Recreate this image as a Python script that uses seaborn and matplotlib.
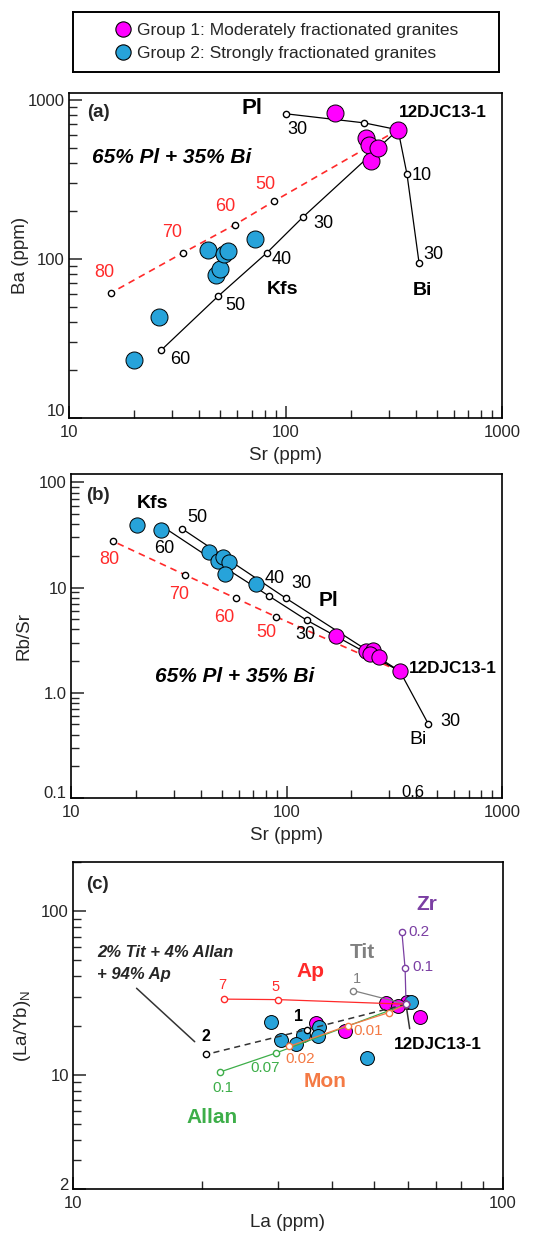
import numpy as np
import pandas as pd
import seaborn as sns
import matplotlib
matplotlib.use('Agg')
import matplotlib.pyplot as plt
from matplotlib.ticker import FixedLocator, NullFormatter, LogLocator
from matplotlib.lines import Line2D
from matplotlib.transforms import ScaledTranslation

sns.set_style('ticks')
plt.rcParams['font.family'] = ['Liberation Sans', 'DejaVu Sans']
plt.rcParams['mathtext.fontset'] = 'custom'
plt.rcParams['mathtext.rm'] = 'Liberation Sans'

# 颜色
MAG = '#FF00FF'
BLU = '#27A3DA'
RED = '#FF2A2A'
ORG = '#F47A45'
GRN = '#3DAE49'
PUR = '#7B3FA3'
GRY = '#808080'

# ---------------- (a) Sr - Ba ----------------
g1_sr_a = [169, 235, 243, 248, 267, 331]
g1_ba_a = [828, 575, 519, 411, 497, 646]
g2_sr_a = [20, 26, 44, 48, 50, 52, 54, 72]
g2_ba_a = [23, 43, 114, 79, 86, 107, 112, 134]

pl_sr_a = [331, 231, 100]
pl_ba_a = [646, 714, 815]
bi_sr_a = [331, 364, 414]
bi_ba_a = [646, 340, 94]
kfs_sr_a = [331, 120, 82, 48.7, 26.6]
kfs_ba_a = [646, 182, 109, 58, 26.6]
mix_sr_a = [331, 88.5, 58.5, 33.6, 15.6]
mix_ba_a = [646, 230, 164, 109, 61]

# ---------------- (b) Sr - Rb/Sr ----------------
g1_sr_b = [170, 234, 251, 245, 269, 336]
g1_rbsr_b = [3.44, 2.5, 2.55, 2.34, 2.2, 1.6]
g2_sr_b = [20.2, 26.2, 43.7, 48, 50.7, 54, 52, 72]
g2_rbsr_b = [38.9, 35.5, 21.9, 17.8, 19.5, 17.4, 13.5, 10.7]

kfs_sr_b = [336, 124, 83, 49, 26.6]
kfs_rbsr_b = [1.6, 4.9, 8.3, 16.6, 38]
pl_sr_b = [336, 99.6, 32.7]
pl_rbsr_b = [1.6, 7.9, 36.3]
bi_sr_b = [336, 454]
bi_rbsr_b = [1.6, 0.51]
mix_sr_b = [336, 89, 58.3, 33.8, 15.7]
mix_rbsr_b = [1.6, 5.3, 7.9, 13.2, 27.5]

# ---------------- (c) La - (La/Yb)N ----------------
g1_la = [59.8, 53.5, 57, 64, 36.7, 43]
g1_layb = [28, 27.3, 26.5, 22.4, 20.8, 18.4]
g2_la = [61, 28.8, 37.4, 37.2, 34.3, 30.5, 33, 48.2]
g2_layb = [27.7, 21.1, 19.7, 17.3, 17.6, 16.4, 15.5, 12.7]

ap_la = [59.5, 30, 22.4]
ap_layb = [27, 28.8, 29]
tit_la = [59.5, 44.8]
tit_layb = [27, 32.7]
zr_la = [59.5, 59.2, 58.2]
zr_layb = [27, 44.7, 74.3]
mon_la = [59.5, 54.3, 43.7, 31.8]
mon_layb = [27, 24, 20, 14.9]
allan_la = [59.5, 29.7, 22]
allan_layb = [27, 13.6, 10.4]
mixc_la = [59.5, 35, 20.4]
mixc_layb = [27, 18.9, 13.3]


def model_line(ax, xs, ys, color='black', ls='-', lw=0.9, mec='black', z=2):
    sns.lineplot(x=xs, y=ys, ax=ax, sort=False, estimator=None, color=color,
                 linestyle=ls, linewidth=lw, marker='o', markersize=4.5,
                 markerfacecolor='white', markeredgecolor=mec,
                 markeredgewidth=1.0, zorder=z)


def samples(ax, x1, y1, x2, y2, s, z=3):
    sns.scatterplot(x=x1, y=y1, ax=ax, color=MAG, s=s, edgecolor='black',
                    linewidth=0.7, zorder=z)
    sns.scatterplot(x=x2, y=y2, ax=ax, color=BLU, s=s, edgecolor='black',
                    linewidth=0.7, zorder=z)


def lab(ax, x, y, s, fs=13, color='black', **kw):
    ax.text(x, y, s, ha='center', va='center', fontsize=fs, color=color, **kw)


def style_axes(ax):
    ax.set_xscale('log')
    ax.set_yscale('log')
    for sp in ['top', 'right', 'left', 'bottom']:
        ax.spines[sp].set_linewidth(1.2)
        ax.spines[sp].set_color('black')
    ax.tick_params(which='major', direction='in', length=9, width=1.1,
                   labelsize=12, pad=3, top=False, right=False)
    ax.tick_params(axis='x', which='major', pad=5)
    ax.tick_params(which='minor', direction='in', length=5.5, width=1.0,
                   top=False, right=False)
    ax.xaxis.set_minor_locator(LogLocator(base=10, subs=np.arange(2, 10)))
    ax.yaxis.set_minor_locator(LogLocator(base=10, subs=np.arange(2, 10)))
    ax.xaxis.set_minor_formatter(NullFormatter())
    ax.yaxis.set_minor_formatter(NullFormatter())


def lift_first_ylabel(ax, px):
    t = ax.get_yticklabels()[0]
    t.set_transform(t.get_transform() + ScaledTranslation(0, px / 100, fig.dpi_scale_trans))


fig = plt.figure(figsize=(5.51, 12.37), dpi=100)

# 图例
ax_leg = fig.add_axes([73 / 551, 1 - 72 / 1237, 426 / 551, 60 / 1237])
ax_leg.set_xticks([])
ax_leg.set_yticks([])
for sp in ax_leg.spines.values():
    sp.set_linewidth(1.4)
    sp.set_color('black')
handles = [Line2D([], [], ls='none', marker='o', markersize=11, markerfacecolor=MAG,
                  markeredgecolor='black', markeredgewidth=0.8),
           Line2D([], [], ls='none', marker='o', markersize=11, markerfacecolor=BLU,
                  markeredgecolor='black', markeredgewidth=0.8)]
ax_leg.legend(handles, ['Group 1: Moderately fractionated granites',
                        'Group 2: Strongly fractionated granites'],
              loc='center', frameon=False, fontsize=12.5, handletextpad=0.3,
              labelspacing=0.45, handlelength=1.0, borderpad=0.1)

# ---------------- (a) ----------------
ax = fig.add_axes([69 / 551, 1 - 418 / 1237, 433 / 551, 325 / 1237])
style_axes(ax)
model_line(ax, mix_sr_a, mix_ba_a, color=RED, ls=(0, (4, 3)), lw=1.2)
model_line(ax, pl_sr_a, pl_ba_a)
model_line(ax, bi_sr_a, bi_ba_a)
model_line(ax, kfs_sr_a, kfs_ba_a)
samples(ax, g1_sr_a, g1_ba_a, g2_sr_a, g2_ba_a, 150)
ax.set_xlim(10, 1000)
ax.set_ylim(10, 1100)
ax.xaxis.set_major_locator(FixedLocator([10, 100, 1000]))
ax.set_xticklabels(['10', '100', '1000'])
ax.yaxis.set_major_locator(FixedLocator([10, 100, 1000]))
ax.set_yticklabels(['10', '100', '1000'])
lift_first_ylabel(ax, 8)
ax.set_xlabel('Sr (ppm)', fontsize=13.5)
ax.set_ylabel('Ba (ppm)', fontsize=13.5)
ax.yaxis.set_label_coords(-0.092, 0.5)
ax.xaxis.set_label_coords(0.5, -0.089)

ax.text(0.067, 0.94, '(a)', transform=ax.transAxes, ha='center', va='center',
        fontsize=13.5, fontweight='bold')
lab(ax, 70, 878, 'Pl', fs=16, fontweight='bold')
lab(ax, 113, 648, '30')
lab(ax, 533, 828, '12DJC13-1', fs=12.3, fontweight='bold')
lab(ax, 29.9, 431, '65% Pl + 35% Bi', fs=15, fontweight='bold', fontstyle='italic')
lab(ax, 81, 292, '50', color=RED)
lab(ax, 52.5, 212, '60', color=RED)
lab(ax, 29.9, 146, '70', color=RED)
lab(ax, 14.5, 82, '80', color=RED)
lab(ax, 149, 166, '30')
lab(ax, 96.4, 98.6, '40')
lab(ax, 58.5, 50.6, '50')
lab(ax, 32.6, 23.2, '60')
lab(ax, 96.4, 63.9, 'Kfs', fs=14, fontweight='bold')
lab(ax, 427, 63, 'Bi', fs=14, fontweight='bold')
lab(ax, 427, 333, '10')
lab(ax, 480, 107, '30')

# ---------------- (b) ----------------
ax = fig.add_axes([71 / 551, 1 - 798 / 1237, 431 / 551, 324 / 1237])
style_axes(ax)
model_line(ax, mix_sr_b, mix_rbsr_b, color=RED, ls=(0, (4, 3)), lw=1.2)
model_line(ax, kfs_sr_b, kfs_rbsr_b)
model_line(ax, pl_sr_b, pl_rbsr_b)
model_line(ax, bi_sr_b, bi_rbsr_b)
samples(ax, g1_sr_b, g1_rbsr_b, g2_sr_b, g2_rbsr_b, 120)
ax.set_xlim(10, 1000)
ax.set_ylim(0.1, 120)
ax.xaxis.set_major_locator(FixedLocator([10, 100, 1000]))
ax.set_xticklabels(['10', '100', '1000'])
ax.yaxis.set_major_locator(FixedLocator([0.1, 1, 10, 100]))
ax.set_yticklabels(['0.1', '1.0', '10', '100'])
lift_first_ylabel(ax, 6)
ax.set_xlabel('Sr (ppm)', fontsize=13.5)
ax.set_ylabel('Rb/Sr', fontsize=13.5)
ax.yaxis.set_label_coords(-0.09, 0.5)
ax.xaxis.set_label_coords(0.5, -0.09)

ax.text(0.063, 0.935, '(b)', transform=ax.transAxes, ha='center', va='center',
        fontsize=13.5, fontweight='bold')
lab(ax, 24, 63, 'Kfs', fs=14, fontweight='bold')
lab(ax, 38.5, 46.8, '50')
lab(ax, 27, 23.4, '60')
lab(ax, 15, 18.6, '80', color=RED)
lab(ax, 31.7, 8.6, '70', color=RED)
lab(ax, 51.3, 5.16, '60', color=RED)
lab(ax, 81, 3.75, '50', color=RED)
lab(ax, 122, 3.6, '30')
lab(ax, 88.5, 12.3, '40')
lab(ax, 117, 11, '30')
lab(ax, 156, 7.6, 'Pl', fs=15, fontweight='bold')
lab(ax, 593, 1.7, '12DJC13-1', fs=12.3, fontweight='bold')
lab(ax, 57.7, 1.44, '65% Pl + 35% Bi', fs=15, fontweight='bold', fontstyle='italic')
lab(ax, 407, 0.36, 'Bi', fs=14)
lab(ax, 574, 0.53, '30')
lab(ax, 386, 0.114, '0.6', fs=12)

# ---------------- (c) ----------------
ax = fig.add_axes([73 / 551, 1 - 1189 / 1237, 430 / 551, 327 / 1237])
style_axes(ax)
samples(ax, g1_la, g1_layb, g2_la, g2_layb, 100, z=2)
model_line(ax, allan_la, allan_layb, color=GRN, mec=GRN, z=3)
model_line(ax, mon_la, mon_layb, color=ORG, mec=ORG, z=3)
model_line(ax, mixc_la, mixc_layb, color='#333333', ls=(0, (4, 3)), lw=1.1, z=3)
model_line(ax, tit_la, tit_layb, color=GRY, mec=GRY, z=3)
model_line(ax, ap_la, ap_layb, color=RED, mec=RED, z=3)
model_line(ax, zr_la, zr_layb, color=PUR, mec=PUR, z=3)
ax.set_xlim(10, 100)
ax.set_ylim(2, 200)
ax.xaxis.set_major_locator(FixedLocator([10, 100]))
ax.set_xticklabels(['10', '100'])
ax.yaxis.set_major_locator(FixedLocator([2, 10, 100]))
ax.set_yticklabels(['2', '10', '100'])
lift_first_ylabel(ax, 5)
ax.set_xlabel('La (ppm)', fontsize=13.5)
ax.set_ylabel(r'(La/Yb)$_\mathregular{N}$', fontsize=13.5)
ax.yaxis.set_label_coords(-0.093, 0.5)
ax.xaxis.set_label_coords(0.5, -0.076)
for t in ax.yaxis.get_minor_ticks():
    if abs(t.get_loc() - 4) < 1e-6:
        t.tick1line.set_color('blue')

ax.text(0.056, 0.93, '(c)', transform=ax.transAxes, ha='center', va='center',
        fontsize=13.5, fontweight='bold')
lab(ax, 66.5, 110, 'Zr', fs=15, color=PUR, fontweight='bold')
lab(ax, 63.8, 75, '0.2', fs=11, color=PUR)
lab(ax, 65.1, 45.3, '0.1', fs=11, color=PUR)
lab(ax, 47.2, 56, 'Tit', fs=15, color=GRY, fontweight='bold')
lab(ax, 45.7, 38.3, '1', fs=10.5, color=GRY)
lab(ax, 35.7, 42.8, 'Ap', fs=15, color=RED, fontweight='bold')
lab(ax, 22.3, 35.2, '7', fs=10.5, color=RED)
lab(ax, 29.6, 34.2, '5', fs=10.5, color=RED)
lab(ax, 33.5, 22.7, '1', fs=11.5, fontweight='bold')
lab(ax, 20.4, 17.1, '2', fs=11.5, fontweight='bold')
lab(ax, 48.6, 18.4, '0.01', fs=11, color=ORG)
lab(ax, 33.7, 12.4, '0.02', fs=11, color=ORG)
lab(ax, 28, 11, '0.07', fs=11, color=GRN)
lab(ax, 22.3, 8.3, '0.1', fs=11, color=GRN)
lab(ax, 38.5, 9.06, 'Mon', fs=15, color=ORG, fontweight='bold')
lab(ax, 21, 5.5, 'Allan', fs=15, color=GRN, fontweight='bold')
lab(ax, 70.6, 15.3, '12DJC13-1', fs=12.3, fontweight='bold')
ax.text(11.4, 56, '2% Tit + 4% Allan', ha='left', va='center', fontsize=12,
        fontweight='bold', fontstyle='italic')
ax.text(11.4, 41, '+ 94% Ap', ha='left', va='center', fontsize=12,
        fontweight='bold', fontstyle='italic')
ax.annotate('', xy=(19.4, 15.5), xytext=(13.9, 34.7),
            arrowprops=dict(arrowstyle='-', color='#333333', lw=1.1))
ax.annotate('', xy=(60.8, 18.4), xytext=(59.6, 26.1),
            arrowprops=dict(arrowstyle='-', color='#333333', lw=1.1))

fig.savefig('out.png', dpi=100)
